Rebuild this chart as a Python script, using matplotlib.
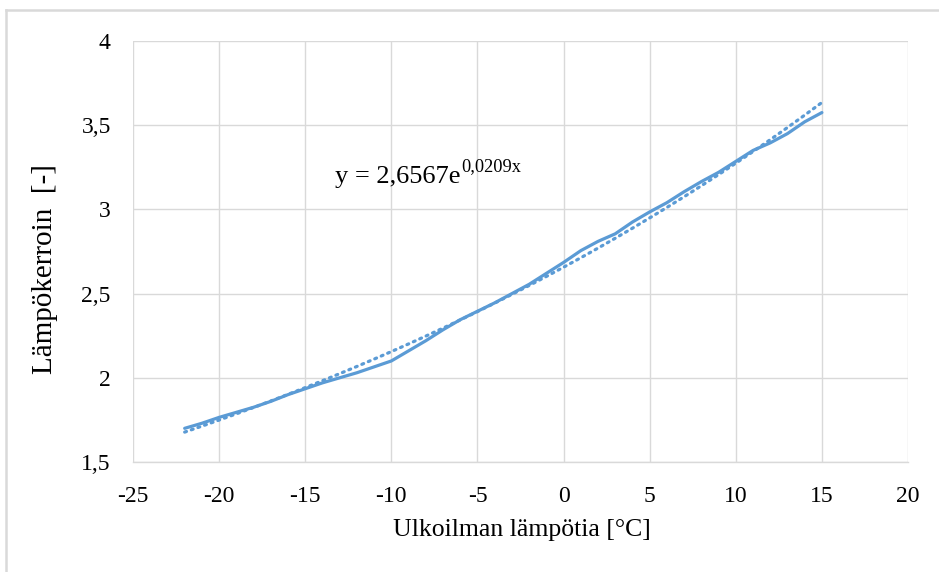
import numpy as np
import matplotlib
matplotlib.use("Agg")
import matplotlib.pyplot as plt
from matplotlib.lines import Line2D

# Data
temps = [-22, -21, -20, -19, -18, -17, -16, -15, -14, -13, -12, -11, -10,
         -9, -8, -7, -6, -5, -4, -3, -2, -1, 0, 1, 2, 3, 4, 5, 6, 7, 8, 9,
         10, 11, 12, 13, 14, 15]
cop = [1.70, 1.73, 1.765, 1.795, 1.825, 1.86, 1.90, 1.935, 1.97, 2.00, 2.03,
       2.065, 2.10, 2.16, 2.22, 2.285, 2.345, 2.395, 2.445, 2.50, 2.555, 2.62,
       2.685, 2.755, 2.81, 2.855, 2.925, 2.985, 3.04, 3.105, 3.165, 3.22,
       3.285, 3.35, 3.395, 3.45, 3.52, 3.575]
# Trendline coefficients as printed on the chart
trend_a = 2.6567
trend_b = 0.0209
xticks = [-25, -20, -15, -10, -5, 0, 5, 10, 15, 20]
yticks = [1.5, 2.0, 2.5, 3.0, 3.5, 4.0]
ytick_labels = ["1,5", "2", "2,5", "3", "3,5", "4"]

plt.rcParams['font.family'] = ['Liberation Serif', 'DejaVu Serif']

W, H = 939, 572
fig = plt.figure(figsize=(W / 100, H / 100), dpi=100)
ax = fig.add_axes([133 / W, 1 - 462 / H, (908 - 133) / W, (462 - 41) / H])

blue = '#5B9BD5'
x = np.array(temps, dtype=float)
ax.plot(x, cop, color=blue, lw=2.3, solid_capstyle='round', zorder=3)
trend_y = trend_a * np.exp(trend_b * x)
ax.plot(x, trend_y, color=blue, lw=2.3, linestyle=(0, (0.6, 1.6)),
        dash_capstyle='round', zorder=3)

ax.set_xlim(-25, 20)
ax.set_ylim(1.5, 4)
ax.set_xticks(xticks)
ax.set_xticklabels([str(t) for t in xticks])
ax.set_yticks(yticks)
ax.set_yticklabels(ytick_labels)
ax.grid(True, color='#D9D9D9', lw=1)
ax.set_axisbelow(True)
for s in ['top', 'right', 'left']:
    ax.spines[s].set_visible(False)
ax.spines['bottom'].set_color('#D9D9D9')
ax.spines['bottom'].set_linewidth(1)
ax.tick_params(axis='both', length=0, labelsize=17, colors='black')
ax.tick_params(axis='x', pad=17)
ax.tick_params(axis='y', pad=16)

fig.text(522 / W, 1 - 530 / H, 'Ulkoilman lämpötia [°C]', fontsize=18.5,
         ha='center', va='center')
fig.text(45 / W, 1 - 269 / H, 'Lämpökerroin  [-]', fontsize=21,
         rotation=90, ha='center', va='center')

t = ax.text(-13.27, 3.159, 'y = 2,6567e', fontsize=19,
            ha='left', va='baseline')
ax.annotate('0,0209x', xy=(1, 0), xycoords=t, xytext=(0.3, 12),
            textcoords='offset points', fontsize=13.2, ha='left', va='baseline')

border = '#D9D9D9'
fig.add_artist(Line2D([5.5 / W, 5.5 / W], [0, 1 - 10 / H], transform=fig.transFigure,
                      color=border, lw=1.8))
fig.add_artist(Line2D([5.5 / W, 1], [1 - 10 / H, 1 - 10 / H], transform=fig.transFigure,
                      color=border, lw=1.8))

fig.savefig('out.png', dpi=100)
